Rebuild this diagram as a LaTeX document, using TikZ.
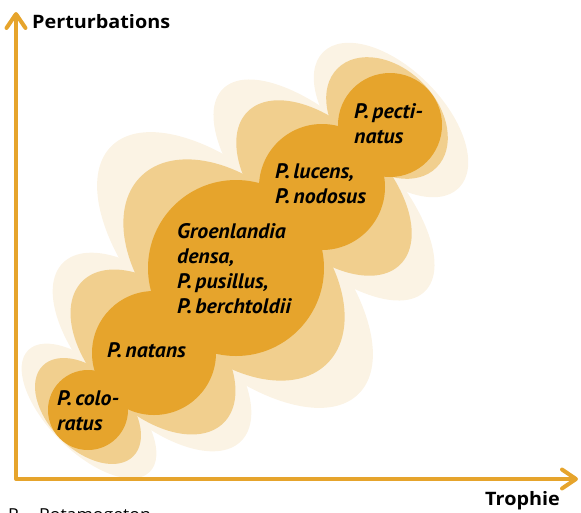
\documentclass[tikz,border=0pt]{standalone}
\usepackage{fontspec}
\setmainfont{PT Sans}
\newfontfamily\speciesfont[FakeStretch=1.04]{PT Sans}
\newfontfamily\axisfont[FakeStretch=1.07]{Open Sans}
\usetikzlibrary{arrows.meta}

\definecolor{potdark}{HTML}{E6A42C}
\definecolor{potmid}{HTML}{F1CF8E}
\definecolor{potlight}{HTML}{FBF3E4}

\tikzset{
  halolight/.style={fill=potlight},
  halomid/.style={fill=potmid},
  lobe/.style={fill=potdark},
  species/.style={font=\speciesfont\fontsize{21}{25}\selectfont\bfseries\itshape, align=left, anchor=base west, inner sep=0pt},
  axislabel/.style={font=\axisfont\fontsize{18.5}{22}\selectfont\bfseries, anchor=base west, inner sep=0pt},
  axis/.style={draw=potdark, line width=4pt, line join=round,
    {Straight Barb[length=14pt,width=19pt,round]}-{Straight Barb[length=14pt,width=19pt,round]}}
}

\begin{document}
\begin{tikzpicture}[x=1pt, y=-1pt]
  \useasboundingbox (0,0) rectangle (581,512);
  % outer halos
  \fill[halolight] (89,411) ellipse [x radius=86, y radius=41, rotate=-45];
  \fill[halolight] (152,352) ellipse [x radius=126, y radius=62, rotate=-45];
  \fill[halolight] (235,270) ellipse [x radius=175, y radius=86, rotate=-45];
  \fill[halolight] (324,190) ellipse [x radius=143, y radius=63, rotate=-45];
  \fill[halolight] (391,120) ellipse [x radius=96, y radius=52, rotate=-45];
  % inner halos
  \fill[halomid] (88,411) ellipse [x radius=64, y radius=39, rotate=-45];
  \fill[halomid] (153,352) ellipse [x radius=100, y radius=60, rotate=-45];
  \fill[halomid] (234,270) ellipse [x radius=132, y radius=84, rotate=-45];
  \fill[halomid] (324,188) ellipse [x radius=108, y radius=61, rotate=-45];
  \fill[halomid] (387,118) ellipse [x radius=70, y radius=50, rotate=-45];
  % lobes
  \fill[lobe] (88,410) circle [radius=40];
  \fill[lobe] (154,353) circle [radius=62];
  \fill[lobe] (236,268) circle [radius=88];
  \fill[lobe] (322,187) circle [radius=63];
  \fill[lobe] (390,125) circle [radius=52];

  \node[species] (colo) at (57,430) {P.\,colo-\\ratus};
  \node[species] (natans) at (107,357) {P.\,natans};
  \node[species] (groen) at (177,313) {Groenlandia\\densa,\\P.\,pusillus,\\P.\,berchtoldii};
  \node[species] (lucens) at (275,203) {P.\,lucens,\\P.\,nodosus};
  \node[species] (pecti) at (354,143) {P.\,pecti-\\natus};

  % axes
  \coordinate (O) at (16,479);
  \coordinate (ytip) at (16,12);
  \coordinate (xtip) at (578,479);
  \draw[axis] (ytip) -- (O) -- (xtip);
  \node[axislabel] (perturb) at (32,28) {Perturbations};
  \node[axislabel] (trophie) at (485,505) {Trophie};

  \node[font=\axisfont\fontsize{16.5}{20}\selectfont, anchor=base west, inner sep=0pt] (abbr) at (8,520) {P. – Potamogeton};
\end{tikzpicture}
\end{document}
